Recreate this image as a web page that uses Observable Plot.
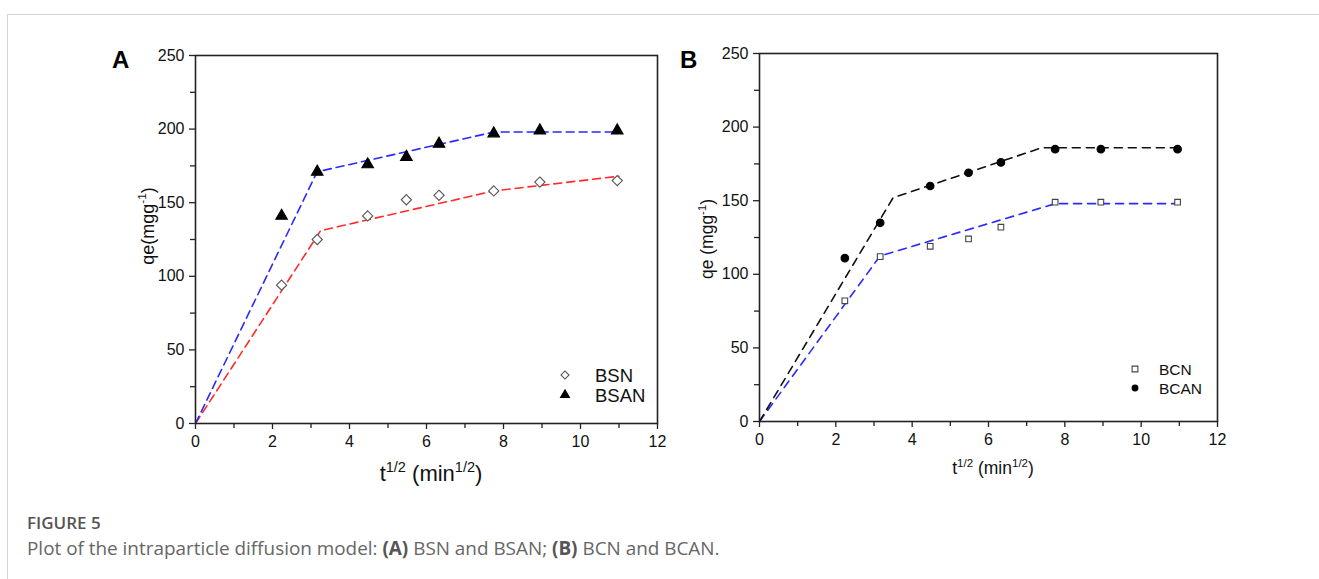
<!DOCTYPE html>
<html>
<head>
<meta charset="utf-8">
<script src="https://cdn.jsdelivr.net/npm/d3@7"></script>
<script src="https://cdn.jsdelivr.net/npm/@observablehq/plot@0.6"></script>
<style>
  body { margin: 0; background: #fff; }
  #page { position: relative; width: 1319px; height: 579px; overflow: hidden; background: #fff; }
  .hline { position: absolute; left: 7px; top: 14px; width: 1312px; height: 0; border-top: 1px solid #d4d4d4; }
  .vline { position: absolute; left: 7px; top: 14px; width: 0; height: 565px; border-left: 1px solid #d4d4d4; }
  #panelA { position: absolute; left: 0; top: 0; }
  #panelB { position: absolute; left: 680px; top: 0; }
  #cap1 { position: absolute; left: 27px; top: 513px; font-family: "Open Sans", sans-serif; font-size: 17px; line-height: 20px; font-weight: 600; color: #555; white-space: nowrap; }
  #cap2 { position: absolute; left: 27px; top: 537px; font-family: "Open Sans", sans-serif; font-size: 18.9px; line-height: 22px; color: #666; white-space: nowrap; }
  #cap2 b { font-weight: 700; color: #555; }
</style>
</head>
<body>
<div id="page">
  <div class="hline"></div>
  <div class="vline"></div>
  <div id="panelA"></div>
  <div id="panelB"></div>
  <div id="cap1">FIGURE 5</div>
  <div id="cap2">Plot of the intraparticle diffusion model: <b>(A)</b> BSN and BSAN; <b>(B)</b> BCN and BCAN.</div>
</div>
<script>
// ---- data ----
const tSqrt = [2.236, 3.162, 4.472, 5.477, 6.325, 7.746, 8.944, 10.954];
const qeBSN  = [94, 125, 141, 152, 155, 158, 164, 165];
const qeBSAN = [141, 171, 176, 181, 190, 197, 199, 199];
const qeBCN  = [82, 112, 119, 124, 132, 149, 149, 149];
const qeBCAN = [111, 135, 160, 169, 176, 185, 185, 185];

// piecewise linear fits (intraparticle diffusion stages)
const fitBSN_x  = [0, 3.25, 7.75, 11];
const fitBSN_y  = [0, 131, 158, 168];
const fitBSAN_x = [0, 3.16, 7.75, 11];
const fitBSAN_y = [0, 171, 198, 198];
const fitBCN_x  = [0, 3.16, 7.75, 11];
const fitBCN_y  = [0, 112.5, 148, 148];
const fitBCAN_x = [0, 3.5, 7.4, 11];
const fitBCAN_y = [0, 152, 186, 186];

const xMajor = [0, 2, 4, 6, 8, 10, 12];
const xMinor = [1, 3, 5, 7, 9, 11];
const yMajor = [0, 50, 100, 150, 200, 250];
const yMinor = [25, 75, 125, 175, 225];

const pts = (xs, ys) => xs.map((x, i) => ({x, y: ys[i]}));
const FONT = "Liberation Sans, Arial, sans-serif";

function panel(opts) {
  const axisStyle = {stroke: "#222", strokeWidth: 1.3, fontSize: opts.tickFont, fontFamily: FONT, fill: "#111", label: null};
  const svg = Plot.plot({
    width: opts.width, height: opts.height,
    marginLeft: opts.ml, marginRight: opts.mr, marginTop: opts.mt, marginBottom: opts.mb,
    style: {fontFamily: FONT, fontSize: opts.tickFont + "px", color: "#111", background: "transparent", overflow: "visible"},
    x: {domain: [0, 12], label: null},
    y: {domain: [0, 250], label: null},
    marks: [
      Plot.axisX({...axisStyle, ticks: xMajor, tickSize: 6, tickPadding: 6, tickFormat: d => d}),
      Plot.axisX({...axisStyle, ticks: xMinor, tickSize: 5, tickFormat: () => ""}),
      Plot.axisY({...axisStyle, ticks: yMajor, tickSize: 6, tickPadding: 5, tickFormat: d => d}),
      Plot.axisY({...axisStyle, ticks: yMinor, tickSize: 5, tickFormat: () => ""}),
      ...opts.lines.map(l => Plot.line(pts(l.xs, l.ys), {x: "x", y: "y", stroke: l.color, strokeWidth: 1.6, strokeDasharray: l.dash})),
      ...opts.dots.map(d => Plot.dot(pts(tSqrt, d.ys), {x: "x", y: "y", symbol: d.symbol, r: d.r, fill: d.fill, stroke: d.stroke, strokeWidth: 1.1})),
      Plot.frame({stroke: "#222", strokeWidth: 1.6})
    ]
  });
  const s = d3.select(svg);
  // panel letter
  s.append("text").attr("x", opts.letter.x).attr("y", opts.letter.y).attr("text-anchor", "start")
    .attr("font-family", FONT).attr("font-size", 24).attr("font-weight", 700).attr("fill", "#000")
    .text(opts.letter.t);
  // y label
  const yf = opts.ylab.fs, ys = yf * 0.65;
  const yl = s.append("text")
    .attr("transform", `translate(${opts.ylab.x},${opts.ylab.y}) rotate(-90)`)
    .attr("text-anchor", "middle").attr("font-family", FONT).attr("font-size", yf).attr("fill", "#111");
  yl.append("tspan").text(opts.ylab.t);
  yl.append("tspan").attr("dy", -yf * 0.42).attr("font-size", ys).text("-1");
  yl.append("tspan").attr("dy", yf * 0.42).text(")");
  // x label
  const xf = opts.xlab.fs, xs = xf * 0.66;
  const xl = s.append("text").attr("x", opts.xlab.x).attr("y", opts.xlab.y)
    .attr("text-anchor", "middle").attr("font-family", FONT).attr("font-size", xf).attr("fill", "#111");
  xl.append("tspan").text("t");
  xl.append("tspan").attr("dy", -xf * 0.42).attr("font-size", xs).text("1/2");
  xl.append("tspan").attr("dy", xf * 0.42).text(" (min");
  xl.append("tspan").attr("dy", -xf * 0.42).attr("font-size", xs).text("1/2");
  xl.append("tspan").attr("dy", xf * 0.42).text(")");
  // legend
  opts.legend.items.forEach((it, i) => {
    const y = opts.legend.y + i * opts.legend.dy;
    const sym = d3.symbol().type(it.type).size(it.size)();
    s.append("path").attr("d", sym)
      .attr("transform", `translate(${opts.legend.x},${y})${it.rot ? " rotate(45)" : ""}`)
      .attr("fill", it.fill).attr("stroke", it.stroke).attr("stroke-width", 1.1);
    s.append("text").attr("x", opts.legend.x + opts.legend.gap).attr("y", y).attr("dy", "0.36em")
      .attr("text-anchor", "start")
      .attr("font-family", FONT).attr("font-size", opts.legend.fs).attr("fill", "#111").text(it.label);
  });
  return svg;
}

document.getElementById("panelA").appendChild(panel({
  width: 680, height: 500, ml: 195, mr: 23, mt: 55, mb: 77, tickFont: 16,
  lines: [
    {xs: fitBSN_x, ys: fitBSN_y, color: "#ff2a2a", dash: "8,5"},
    {xs: fitBSAN_x, ys: fitBSAN_y, color: "#2a2aff", dash: "8,5"}
  ],
  dots: [
    {ys: qeBSN, symbol: "diamond2", r: 4.6, fill: "white", stroke: "#555"},
    {ys: qeBSAN, symbol: "triangle", r: 4.3, fill: "#000", stroke: "#000"}
  ],
  letter: {x: 112, y: 68, t: "A"},
  ylab: {x: 154, y: 226, t: "qe(mgg", fs: 18},
  xlab: {x: 431, y: 481, fs: 22},
  legend: {x: 565, y: 375, dy: 20, gap: 30, fs: 18.5, items: [
    {type: d3.symbolSquare, size: 32, rot: true, fill: "white", stroke: "#555", label: "BSN"},
    {type: d3.symbolTriangle, size: 34, fill: "#000", stroke: "#000", label: "BSAN"}
  ]}
}));

document.getElementById("panelB").appendChild(panel({
  width: 600, height: 500, ml: 79, mr: 63, mt: 53, mb: 79, tickFont: 16,
  lines: [
    {xs: fitBCN_x, ys: fitBCN_y, color: "#2a2aff", dash: "8,6"},
    {xs: fitBCAN_x, ys: fitBCAN_y, color: "#111", dash: "8,6"}
  ],
  dots: [
    {ys: qeBCN, symbol: "square2", r: 3.6, fill: "white", stroke: "#444"},
    {ys: qeBCAN, symbol: "circle", r: 3.8, fill: "#000", stroke: "#000"}
  ],
  letter: {x: 0, y: 68, t: "B"},
  ylab: {x: 33, y: 239, t: "qe (mgg", fs: 17.5},
  xlab: {x: 313, y: 474, fs: 17.5},
  legend: {x: 455, y: 369, dy: 19, gap: 24, fs: 15.5, items: [
    {type: d3.symbolSquare, size: 34, fill: "white", stroke: "#444", label: "BCN"},
    {type: d3.symbolCircle, size: 26, fill: "#000", stroke: "#000", label: "BCAN"}
  ]}
}));
</script>
</body>
</html>
